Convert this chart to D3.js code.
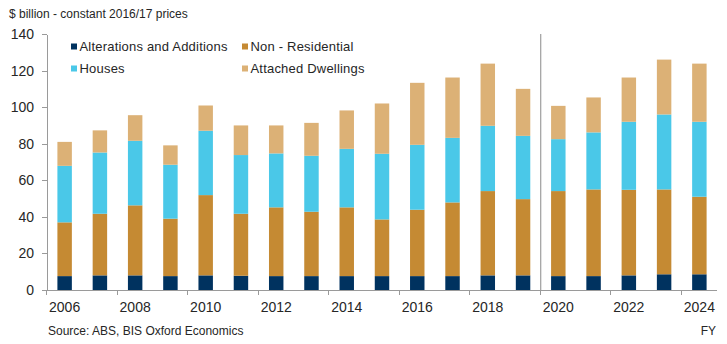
<!DOCTYPE html>
<head>
  <meta charset="utf-8">
  <script src="https://d3js.org/d3.v7.min.js"></script>
  <style>
    body {
        margin: 0;
        background: white;
        font-family: "Liberation Sans", Arial, sans-serif;
    }
    text { fill: #262626; }
    .axis path, .axis line {
        fill: none;
        stroke: #9a9a9a;
        shape-rendering: crispEdges;
    }
    .y.axis text { font-size: 14px; }
    .x.axis text { font-size: 14px; }
  </style>
</head>
<body>
  <script>
    const years = ["2006","2007","2008","2009","2010","2011","2012","2013","2014","2015",
                   "2016","2017","2018","2019","2020","2021","2022","2023","2024"];
    const alterations = [7.6,8.0,8.0,7.6,8.0,7.8,7.6,7.6,7.6,7.6,7.6,7.6,8.0,8.0,7.6,7.6,8.0,8.6,8.6];
    const nonResidential = [29.4,33.7,38.3,31.4,43.9,33.9,37.6,35.2,37.6,31.0,36.3,40.3,46.1,41.7,46.5,47.4,46.8,46.4,42.4];
    const houses = [30.9,33.5,35.3,29.5,35.2,32.1,29.5,30.6,32.0,35.9,35.5,35.3,35.7,34.6,28.4,31.2,37.2,41.0,41.0];
    const attached = [13.1,12.1,14.0,10.6,13.8,16.2,15.3,18.0,21.0,27.5,33.9,33.0,34.0,25.7,18.2,19.1,24.2,30.0,31.8];
    const yTicks = [0,20,40,60,80,100,120,140];
    const xTickLabels = ["2006","2008","2010","2012","2014","2016","2018","2020","2022","2024"];
    const forecastStart = "2020";

    const seriesNames = ["Alterations and Additions","Non - Residential","Houses","Attached Dwellings"];
    const seriesKeys = ["alt","nonres","houses","attached"];
    const colors = ["#00325f","#c58a33","#4ac8e8","#dcb176"];

    const margin = {top: 34, right: 10, bottom: 54, left: 47},
        width = 727 - margin.left - margin.right,
        height = 344 - margin.top - margin.bottom;

    const rows = years.map((yr, i) => ({
        year: yr, alt: alterations[i], nonres: nonResidential[i],
        houses: houses[i], attached: attached[i]
    }));
    const stacked = d3.stack().keys(seriesKeys)(rows);

    const svg = d3.select("body").append("svg")
        .attr("width", 727)
        .attr("height", 344);

    svg.append("text")
        .attr("x", 9).attr("y", 18)
        .style("font-size", "12px")
        .text("$ billion - constant 2016/17 prices");

    const g = svg.append("g")
        .attr("transform", "translate(" + margin.left + "," + margin.top + ")");

    const x = d3.scaleBand().domain(years).range([0, width]).paddingInner(0.59).paddingOuter(0.295);
    const y = d3.scaleLinear().domain([0, 140]).range([height, 0]);

    // bars
    g.selectAll(".layer")
        .data(stacked)
        .enter().append("g")
        .attr("class", "layer")
        .attr("fill", (d, i) => colors[i])
        .selectAll("rect")
        .data(d => d)
        .enter().append("rect")
        .attr("x", d => x(d.data.year))
        .attr("width", x.bandwidth())
        .attr("y", d => y(d[1]))
        .attr("height", d => y(d[0]) - y(d[1]));

    // y axis
    const yAxis = d3.axisLeft(y).tickValues(yTicks).tickSize(5).tickPadding(8).tickSizeOuter(0);
    const yg = g.append("g").attr("class", "y axis").call(yAxis);
    yg.selectAll("text").style("fill", "#262626");

    // x axis: ticks between each pair of years, labels under even years
    const step = x.step();
    const xg = g.append("g")
        .attr("class", "x axis")
        .attr("transform", "translate(0," + height + ")");
    xg.append("line")
        .attr("x1", 0).attr("x2", width)
        .attr("y1", 0).attr("y2", 0);
    xg.selectAll(".tick")
        .data(xTickLabels)
        .enter().append("line")
        .attr("class", "tick")
        .attr("x1", d => x(d) - x.paddingInner() * step / 2 - 0.5)
        .attr("x2", d => x(d) - x.paddingInner() * step / 2 - 0.5)
        .attr("y1", 0).attr("y2", 5);
    xg.selectAll(".label")
        .data(xTickLabels)
        .enter().append("text")
        .attr("class", "label")
        .attr("x", d => x(d) + x.bandwidth() / 2)
        .attr("y", 22)
        .attr("text-anchor", "middle")
        .text(d => d);

    // forecast separator
    const sepX = x(forecastStart) - x.paddingInner() * step / 2;
    g.append("line")
        .attr("x1", sepX).attr("x2", sepX)
        .attr("y1", y(140)).attr("y2", height)
        .attr("stroke", "#a6a6a6")
        .attr("stroke-width", 1.3);

    // legend
    const legend = svg.append("g").attr("class", "legend");
    const legendPos = [[71, 46.5], [242, 46.5], [71, 68.5], [242, 68.5]];
    seriesNames.forEach((name, i) => {
        const p = legendPos[i];
        legend.append("rect")
            .attr("x", p[0]).attr("y", p[1] - 3)
            .attr("width", 6).attr("height", 6)
            .attr("fill", colors[i]);
        legend.append("text")
            .attr("x", p[0] + 8.5).attr("y", p[1] + 4)
            .style("font-size", "13px")
            .style("letter-spacing", "0.2px")
            .text(name);
    });

    svg.append("text")
        .attr("x", 48).attr("y", 335)
        .style("font-size", "12px")
        .text("Source: ABS, BIS Oxford Economics");
    svg.append("text")
        .attr("x", 716).attr("y", 335)
        .attr("text-anchor", "end")
        .style("font-size", "12px")
        .text("FY");
  </script>
</body>
